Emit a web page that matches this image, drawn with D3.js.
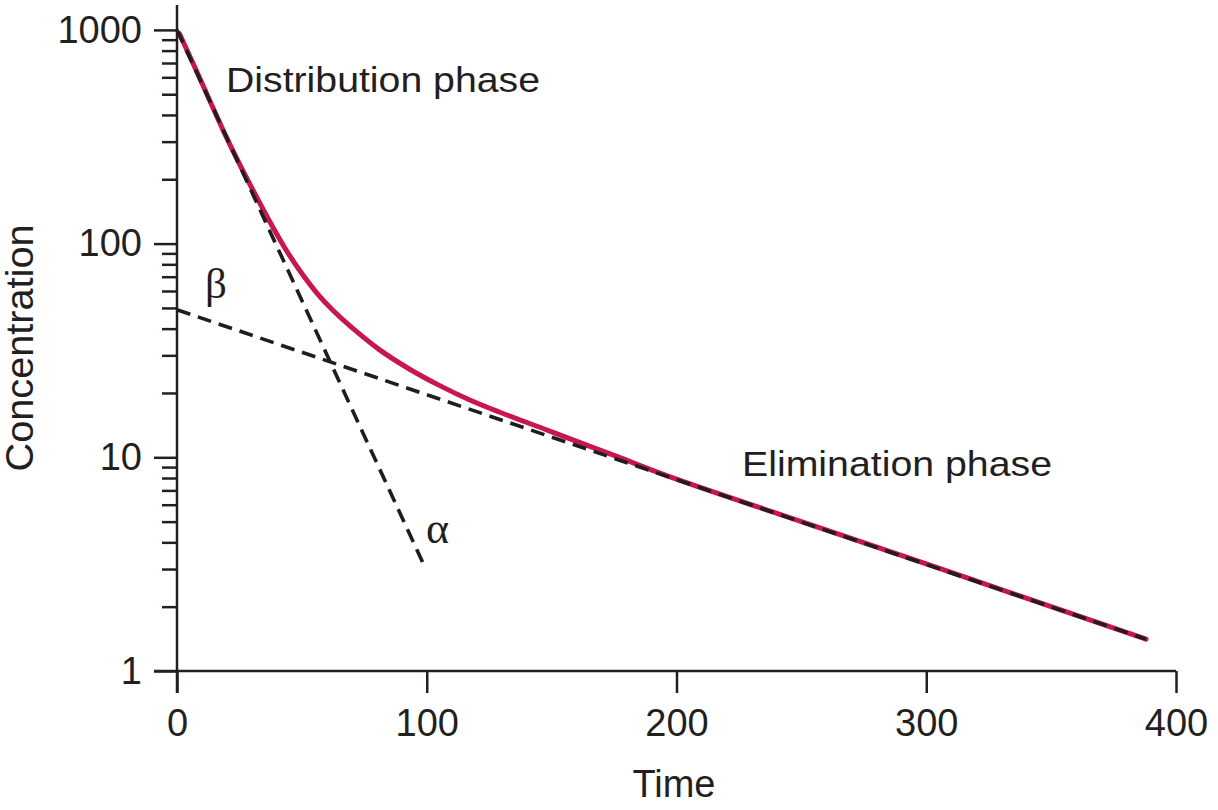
<!DOCTYPE html>
<html><head><meta charset="utf-8">
<script src="https://cdn.jsdelivr.net/npm/d3@7"></script>
<style>html,body{margin:0;padding:0;background:#fff;} svg{display:block;}</style>
</head><body><svg id="chart" width="1218" height="810"></svg>
<script>
// Plasma concentration curve
const curveTime = [1, 7, 13, 19, 25, 31, 37, 43, 49, 56, 62.5, 69, 81, 93, 105, 117, 129, 149, 175, 200, 250, 300, 350, 388];
const curveConc = [960, 674, 470, 329, 236, 172.5, 127.6, 96.2, 75.2, 58.7, 48.6, 41.4, 31.9, 25.9, 21.7, 18.6, 16.3, 13.3, 10.2, 7.9, 5.0, 3.17, 2.0, 1.41];
// Dashed extrapolated lines
const alphaTime = [0, 98.5];
const alphaConc = [1000, 3.2];
const betaTime = [0, 388];
const betaConc = [49, 1.41];
// Ticks
const xTicks = [0, 100, 200, 300, 400];
const yMajorTicks = [1, 10, 100, 1000];
const yMinorTicks = [2,3,4,5,6,7,8,9,20,30,40,50,60,70,80,90,200,300,400,500,600,700,800,900];

const ink = "#231f20";
const svg = d3.select("#chart");
const x = d3.scaleLinear().domain([0, 400]).range([177, 1176]);
const y = d3.scaleLog().domain([1, 1000]).range([671, 29.9]);
const font = "'Liberation Sans', Arial, Helvetica, sans-serif";

// Axes
const yAxis = svg.append("g").attr("transform", "translate(177,0)")
  .call(d3.axisLeft(y).tickValues(yMajorTicks).tickFormat(d3.format("d")).tickSize(23).tickSizeOuter(0).tickPadding(12));
const yMinor = svg.append("g").attr("transform", "translate(177,0)")
  .call(d3.axisLeft(y).tickValues(yMinorTicks).tickFormat("").tickSize(15).tickSizeOuter(0));
const xAxis = svg.append("g").attr("transform", "translate(0,671)")
  .call(d3.axisBottom(x).tickValues(xTicks).tickSize(22).tickSizeOuter(0).tickPadding(16));
[yAxis, yMinor, xAxis].forEach(g => {
  g.select(".domain").remove();
  g.selectAll("line").attr("stroke", ink).attr("stroke-width", 2.5);
  g.selectAll("text").attr("fill", ink).style("font-family", font).style("font-size", "38px");
});
svg.append("line").attr("x1", x(0)).attr("x2", x(0)).attr("y1", 5).attr("y2", 693)
  .attr("stroke", ink).attr("stroke-width", 2.5);
svg.append("line").attr("x1", 154).attr("x2", x(400)).attr("y1", y(1)).attr("y2", y(1))
  .attr("stroke", ink).attr("stroke-width", 2.5);

// Curve
const line = d3.line().x(d => x(d[0])).y(d => y(d[1])).curve(d3.curveCatmullRom.alpha(0.5));
const curveData = curveTime.map((t, i) => [t, curveConc[i]]);
svg.append("path").datum(curveData).attr("d", line)
  .attr("fill", "none").attr("stroke", "#c8164e").attr("stroke-width", 5)
  .attr("stroke-linecap", "round").attr("stroke-linejoin", "round");

const straight = d3.line().x(d => x(d[0])).y(d => y(d[1]));
[[alphaTime, alphaConc], [betaTime, betaConc]].forEach(([ts, cs]) => {
  svg.append("path").datum(ts.map((t, i) => [t, cs[i]])).attr("d", straight)
    .attr("fill", "none").attr("stroke", "#1f1d1e").attr("stroke-width", 3.6)
    .attr("stroke-dasharray", "14,8");
});

// Labels
function label(txt, px, py, size, len, opts = {}) {
  const t = svg.append("text").attr("x", px).attr("y", py).text(txt)
    .attr("fill", ink).style("font-family", opts.family || font).style("font-size", size + "px");
  if (len) t.attr("textLength", len).attr("lengthAdjust", "spacingAndGlyphs");
  if (opts.anchor) t.attr("text-anchor", opts.anchor);
  return t;
}
label("Distribution phase", 226, 92, 35, 314);
label("Elimination phase", 742, 476, 35, 310);
label("β", 205, 298, 43, null, {family: "'Liberation Serif', 'DejaVu Serif', serif"});
label("α", 426, 543, 44, null, {family: "'Liberation Serif', 'DejaVu Serif', serif"});
label("Time", x(199), 797, 38, null, {anchor: "middle"});
svg.append("text").attr("transform", "translate(33,348) rotate(-90)")
  .attr("text-anchor", "middle").attr("fill", ink)
  .style("font-family", font).style("font-size", "38px")
  .attr("textLength", 247).attr("lengthAdjust", "spacingAndGlyphs")
  .text("Concentration");
</script></body></html>
